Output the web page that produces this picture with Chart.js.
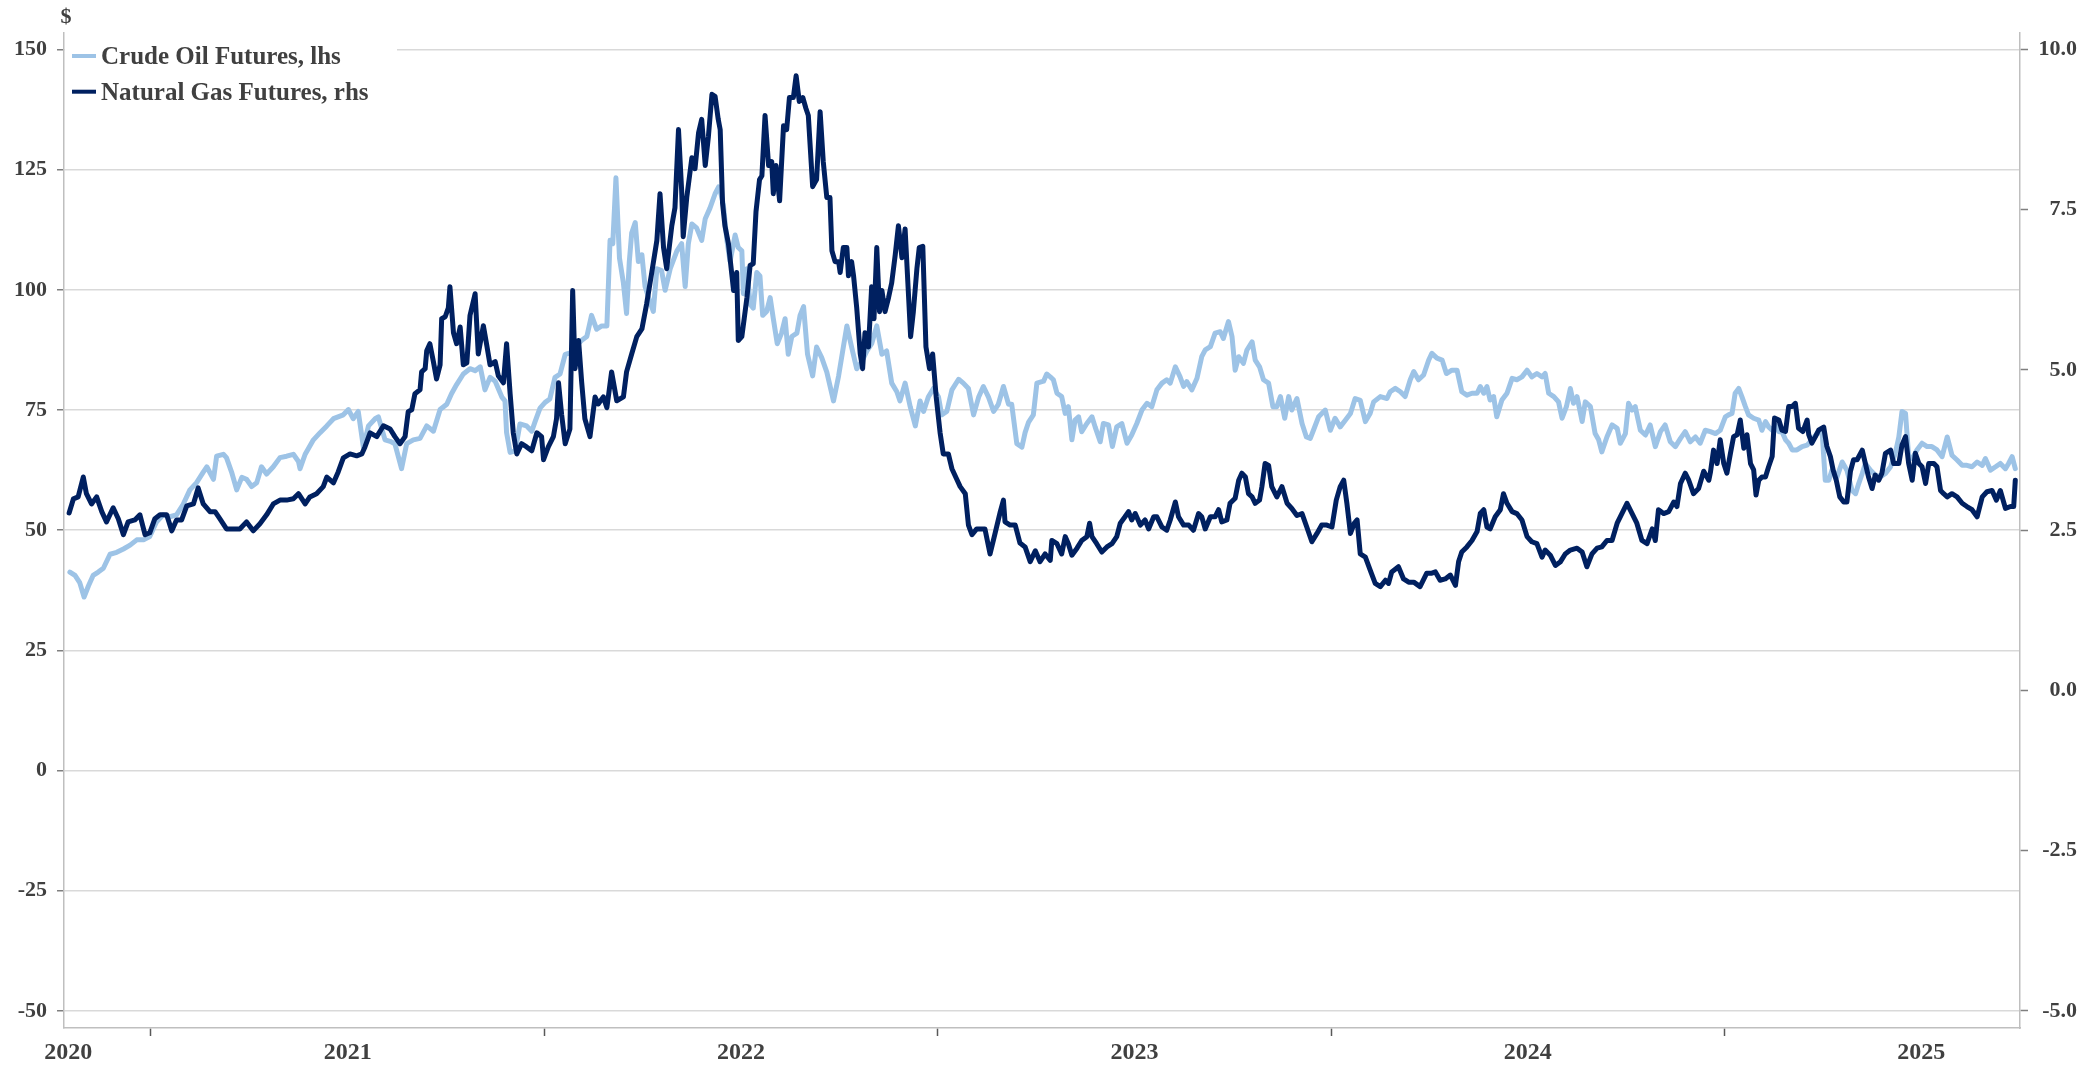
<!DOCTYPE html>
<html><head><meta charset="utf-8">
<script src="https://cdn.jsdelivr.net/npm/chart.js@4.4.1/dist/chart.umd.min.js"></script>
<style>html,body{margin:0;padding:0;background:#fff;overflow:hidden}canvas{display:block}</style>
</head><body>
<canvas id="c" width="2097" height="1068"></canvas>
<script>
const seriesNames = ['Crude Oil Futures, lhs', 'Natural Gas Futures, rhs'];
const unitLabel = '$';

// Crude oil futures ($/bbl), dates as decimal years
const oilDates = [
2020.794,2020.807,2020.819,2020.830,2020.841,2020.853,2020.866,2020.879,2020.896,2020.913,
2020.930,2020.947,2020.964,2020.981,2020.997,2021.014,2021.031,2021.048,2021.065,2021.082,
2021.099,2021.116,2021.133,2021.142,2021.159,2021.167,2021.184,2021.192,2021.205,2021.218,
2021.231,2021.243,2021.256,2021.269,2021.281,2021.294,2021.311,2021.328,2021.345,2021.362,
2021.375,2021.379,2021.392,2021.413,2021.430,2021.447,2021.464,2021.489,2021.502,2021.514,
2021.527,2021.540,2021.553,2021.570,2021.578,2021.595,
2021.608,2021.620,2021.637,2021.650,2021.667,2021.684,2021.701,2021.718,2021.735,2021.752,
2021.764,2021.777,2021.794,2021.811,2021.824,2021.837,2021.849,2021.862,2021.875,2021.892,
2021.900,2021.904,2021.913,2021.926,2021.938,2021.955,2021.968,2021.976,2021.989,2022.002,
2022.014,2022.027,2022.040,2022.053,2022.070,2022.082,2022.095,2022.108,2022.120,2022.133,
2022.146,2022.159,2022.167,2022.174,2022.182,2022.191,2022.201,2022.209,2022.216,2022.222,
2022.231,2022.239,2022.248,2022.256,2022.265,2022.277,2022.286,2022.298,2022.307,2022.320,
2022.337,2022.349,2022.358,2022.366,2022.375,2022.387,2022.400,2022.409,2022.421,2022.434,
2022.443,
2022.447,2022.455,2022.464,2022.472,2022.485,2022.493,2022.502,2022.506,2022.515,2022.523,
2022.531,2022.540,2022.548,2022.555,2022.565,2022.574,2022.582,2022.592,2022.603,2022.612,
2022.620,2022.629,2022.642,2022.650,2022.659,2022.669,2022.682,2022.692,2022.705,2022.718,
2022.735,2022.748,2022.760,2022.769,2022.781,2022.794,2022.807,2022.820,2022.832,2022.845,
2022.858,2022.870,2022.883,2022.896,2022.904,2022.917,2022.930,2022.943,2022.955,2022.964,
2022.976,2022.989,2023.002,2023.010,2023.023,2023.036,2023.053,2023.065,2023.078,2023.091,
2023.104,2023.116,2023.129,2023.142,2023.154,2023.167,2023.180,2023.188,2023.201,2023.214,
2023.222,2023.231,2023.243,2023.252,2023.269,2023.277,
2023.286,2023.294,2023.303,2023.315,2023.324,2023.332,2023.341,2023.349,2023.358,2023.366,
2023.379,2023.392,2023.400,2023.413,2023.421,2023.434,2023.444,2023.455,2023.468,2023.481,
2023.493,2023.506,2023.519,2023.532,2023.544,2023.557,2023.570,2023.582,2023.591,2023.604,
2023.616,2023.625,2023.633,2023.646,2023.659,2023.671,2023.680,2023.693,2023.705,2023.718,
2023.726,2023.739,2023.748,2023.756,2023.765,2023.777,2023.786,2023.799,2023.807,2023.818,
2023.828,2023.841,2023.852,2023.862,2023.871,2023.882,2023.892,2023.900,2023.913,2023.926,
2023.937,2023.947,2023.955,2023.968,2023.985,2023.998,2024.010,2024.023,2024.036,2024.049,
2024.061,2024.074,2024.087,2024.099,2024.108,
2024.125,2024.142,2024.150,2024.163,2024.176,2024.188,2024.201,2024.210,2024.222,2024.235,
2024.248,2024.256,2024.269,2024.282,2024.293,2024.307,2024.320,2024.332,2024.345,2024.358,
2024.371,2024.379,2024.388,2024.396,2024.404,2024.413,2024.421,2024.434,2024.447,2024.460,
2024.472,2024.485,2024.498,2024.510,2024.523,2024.536,2024.544,2024.553,2024.566,2024.578,
2024.587,2024.598,2024.608,2024.616,2024.625,2024.638,2024.646,2024.659,2024.671,2024.680,
2024.688,2024.701,2024.714,2024.727,2024.735,2024.748,2024.756,2024.765,2024.773,2024.786,
2024.799,2024.811,2024.824,2024.837,2024.849,2024.862,2024.875,2024.888,2024.900,2024.913,
2024.926,2024.938,2024.951,
2024.964,2024.977,2024.989,2025.002,2025.010,2025.019,2025.027,2025.036,2025.044,2025.053,
2025.061,2025.074,2025.087,2025.095,2025.104,2025.112,2025.121,2025.129,2025.138,2025.146,
2025.155,2025.163,2025.172,2025.184,2025.197,2025.210,2025.222,2025.235,2025.248,2025.256,
2025.265,2025.273,2025.286,2025.299,2025.311,2025.324,2025.333,2025.341,2025.350,2025.358,
2025.371,2025.383,2025.396,2025.409,2025.422,2025.434,2025.443,2025.451,2025.460,2025.468,
2025.477,2025.489,2025.502,2025.515,2025.527,2025.540,2025.553,2025.566,2025.578,2025.591,
2025.604,2025.616,2025.629,2025.642,2025.655,2025.663,2025.676,2025.689,2025.701,2025.714,
2025.722,2025.731,2025.739
];
const oilValues = [
41.3,40.6,39.1,36.1,38.4,40.6,41.3,42.1,45.0,45.4,
46.1,46.9,48.0,48.0,48.7,51.7,53.2,52.8,53.2,55.4,
58.4,59.9,62.1,63.2,60.6,65.4,65.8,65.1,62.1,58.4,
61.0,60.6,59.1,59.9,63.2,61.7,63.2,65.1,65.4,65.8,
64.3,62.8,65.8,68.8,70.3,71.7,73.2,74.0,75.1,73.2,
74.7,67.3,71.7,73.2,73.6,68.8,
68.5,68.0,62.8,68.0,68.8,69.1,71.7,70.6,75.1,76.2,
78.4,80.3,82.5,83.6,83.2,84.0,79.2,81.8,81.0,77.7,
76.9,70.3,66.2,66.5,72.1,71.7,70.6,72.5,75.4,76.6,
77.3,81.8,82.5,86.6,87.0,88.4,89.5,90.3,94.7,91.8,
92.5,92.5,110.3,109.6,123.3,106.6,101.4,95.1,105.9,111.8,
114.0,105.9,107.3,100.7,98.4,95.5,104.4,104.0,99.9,104.4,
108.1,109.6,100.7,109.6,113.7,112.9,110.3,114.8,117.0,120.0,
121.4,
120.7,117.7,110.3,105.9,111.4,108.8,108.1,99.2,104.4,97.0,
96.2,103.6,102.9,94.7,95.5,98.4,94.0,88.8,91.0,94.0,
86.6,90.3,91.0,94.7,96.5,86.6,82.1,88.1,85.9,82.9,
76.9,82.1,88.1,92.5,88.1,83.6,85.1,87.3,88.8,92.5,
86.6,87.3,80.6,78.8,76.9,80.6,75.7,71.7,76.9,74.7,
77.7,79.5,77.7,74.0,74.7,79.2,81.4,80.6,79.5,74.0,
77.7,79.9,77.7,74.7,76.2,79.9,76.2,76.2,68.0,67.3,
70.3,72.5,74.0,80.6,81.0,82.5,
81.9,81.3,78.5,77.8,74.3,75.7,68.8,72.9,73.6,70.5,
72.2,73.6,71.5,68.4,72.2,71.9,67.4,71.5,72.2,68.1,
69.8,72.2,75.0,76.4,75.7,79.2,80.6,81.3,80.6,84.0,
81.9,79.9,80.9,79.2,81.6,86.1,87.5,88.2,91.0,91.3,
89.9,93.4,90.3,83.3,86.1,84.7,87.5,89.2,85.4,84.0,
81.3,80.6,75.7,75.7,77.8,73.3,77.8,75.0,77.4,72.2,
69.4,69.1,70.8,73.6,75.0,70.8,73.3,71.5,72.9,74.3,
77.4,77.0,72.6,74.3,76.7,
77.8,77.4,78.8,79.5,78.8,77.8,81.3,83.0,81.3,82.3,
85.4,86.8,85.8,85.4,82.6,83.3,83.3,78.8,78.1,78.5,
78.5,79.9,78.5,79.9,77.1,77.8,73.6,77.1,78.5,81.6,
81.3,81.9,83.3,81.9,82.6,81.9,82.6,78.5,77.8,76.7,
73.3,75.7,79.5,76.4,77.8,72.6,76.7,75.7,70.1,68.8,
66.3,69.4,71.9,71.2,68.1,70.1,76.4,75.0,75.7,70.8,
69.8,71.9,67.4,70.5,71.9,68.4,67.4,69.1,70.5,68.4,
69.4,68.1,70.8,
70.5,70.1,70.8,73.6,74.0,74.3,78.5,79.5,77.8,75.7,
74.0,73.3,72.9,70.8,72.6,71.5,70.8,71.9,70.5,70.5,
68.8,68.1,66.7,66.7,67.4,67.7,68.8,70.1,70.5,60.4,
60.4,62.5,61.1,64.2,62.5,58.3,57.6,59.7,61.8,63.9,
62.5,61.5,61.1,61.8,63.2,66.0,69.4,74.7,74.3,65.3,
64.9,66.7,68.1,67.4,67.4,66.7,65.3,69.4,65.6,64.6,
63.5,63.5,63.2,64.2,63.5,64.9,62.5,63.2,63.9,62.8,
63.9,65.3,62.8
];

// Natural gas futures ($/MMBtu), dates as decimal years
const gasDates = [
2020.792,2020.803,2020.815,2020.828,2020.836,2020.849,2020.862,2020.875,2020.887,2020.904,
2020.917,2020.930,2020.942,2020.959,2020.972,2020.985,2020.997,2021.010,2021.023,2021.040,
2021.053,2021.065,2021.078,2021.091,2021.108,2021.120,2021.133,2021.150,2021.163,2021.175,
2021.192,2021.209,2021.226,2021.243,2021.260,2021.277,2021.294,2021.311,2021.328,2021.345,
2021.362,2021.375,2021.392,2021.404,2021.421,2021.438,2021.447,2021.464,2021.476,2021.489,
2021.506,2021.523,2021.536,2021.544,2021.557,2021.574,2021.591,
2021.608,2021.620,2021.633,2021.646,2021.654,2021.663,2021.671,2021.684,2021.688,2021.697,
2021.701,2021.709,2021.718,2021.726,2021.735,2021.739,2021.748,2021.756,2021.760,2021.769,
2021.777,2021.786,2021.794,2021.803,2021.811,2021.824,2021.832,2021.845,2021.853,2021.862,
2021.875,2021.883,2021.896,2021.904,2021.913,2021.921,2021.930,2021.942,2021.955,2021.968,
2021.981,2021.993,2021.998,2022.010,2022.023,2022.031,2022.036,2022.044,2022.053,2022.065,
2022.072,2022.078,2022.087,2022.095,2022.103,2022.116,2022.129,2022.137,2022.150,2022.159,
2022.171,2022.184,2022.201,2022.209,2022.222,2022.235,2022.248,2022.260,2022.273,2022.286,
2022.294,2022.303,2022.311,2022.324,2022.332,2022.341,2022.349,2022.353,2022.362,2022.375,
2022.383,2022.392,2022.400,2022.409,2022.417,2022.426,2022.434,2022.442,
2022.447,2022.453,2022.459,2022.468,2022.476,2022.481,2022.489,2022.493,2022.502,2022.508,
2022.515,2022.523,2022.531,2022.538,2022.547,2022.553,2022.561,2022.570,2022.578,2022.582,
2022.589,2022.598,2022.608,2022.616,2022.623,2022.633,2022.640,2022.648,2022.657,2022.665,
2022.671,2022.682,2022.692,2022.701,2022.709,2022.718,2022.726,2022.731,2022.739,2022.748,
2022.752,2022.760,2022.769,2022.773,2022.781,2022.786,2022.794,2022.803,2022.809,2022.815,
2022.824,2022.832,2022.838,2022.845,2022.852,2022.858,2022.866,2022.875,2022.883,2022.892,
2022.900,2022.909,2022.917,2022.926,2022.931,2022.938,2022.947,2022.953,2022.962,2022.970,
2022.979,2022.987,2022.996,2023.006,2023.014,2023.027,2023.036,2023.048,2023.057,2023.070,
2023.078,2023.087,2023.099,2023.112,2023.120,2023.133,2023.146,2023.159,2023.167,2023.171,
2023.184,2023.197,2023.209,2023.222,2023.235,2023.248,2023.260,2023.273,
2023.286,2023.290,2023.303,2023.315,2023.324,2023.332,2023.341,2023.354,2023.366,2023.379,
2023.386,2023.392,2023.404,2023.417,2023.430,2023.443,2023.455,2023.464,2023.476,2023.485,
2023.493,2023.502,2023.515,2023.527,2023.536,2023.549,2023.557,2023.570,2023.582,2023.591,
2023.604,2023.612,2023.625,2023.638,2023.650,2023.663,2023.671,2023.680,2023.693,2023.705,
2023.714,2023.722,2023.735,2023.743,2023.756,2023.765,2023.773,2023.782,2023.790,2023.799,
2023.807,2023.818,2023.824,2023.832,2023.841,2023.849,2023.862,2023.875,2023.888,2023.900,
2023.913,2023.926,2023.938,2023.951,2023.964,2023.976,2023.989,2024.002,2024.013,2024.023,
2024.032,2024.040,2024.049,2024.059,2024.066,2024.074,2024.087,2024.099,2024.112,
2024.125,2024.138,2024.146,2024.154,2024.171,2024.184,2024.197,2024.210,2024.226,2024.243,
2024.256,2024.265,2024.277,2024.290,2024.303,2024.316,2024.324,2024.332,2024.345,2024.358,
2024.371,2024.379,2024.388,2024.396,2024.404,2024.417,2024.430,2024.438,2024.447,2024.460,
2024.472,2024.485,2024.498,2024.510,2024.523,2024.536,2024.544,2024.557,2024.570,2024.583,
2024.595,2024.608,2024.625,2024.638,2024.650,2024.663,2024.676,2024.688,2024.701,2024.714,
2024.727,2024.739,2024.752,2024.765,2024.777,2024.790,2024.803,2024.816,2024.824,2024.832,
2024.845,2024.858,2024.871,2024.879,2024.888,2024.900,2024.909,2024.921,2024.934,2024.947,
2024.960,
2024.964,2024.972,2024.981,2024.989,2024.998,2025.006,2025.015,2025.023,2025.032,2025.040,
2025.049,2025.057,2025.066,2025.074,2025.080,2025.087,2025.095,2025.104,2025.112,2025.121,
2025.127,2025.138,2025.146,2025.155,2025.163,2025.172,2025.180,2025.188,2025.199,2025.210,
2025.214,2025.222,2025.231,2025.239,2025.252,2025.260,2025.269,2025.276,2025.284,2025.293,
2025.303,2025.311,2025.320,2025.328,2025.337,2025.350,2025.358,2025.366,2025.375,2025.383,
2025.392,2025.400,2025.409,2025.422,2025.430,2025.443,2025.451,2025.460,2025.468,2025.477,
2025.485,2025.494,2025.502,2025.511,2025.519,2025.532,2025.540,2025.549,2025.557,2025.566,
2025.578,2025.591,2025.604,2025.616,2025.629,2025.642,2025.655,2025.667,2025.680,2025.691,
2025.701,2025.714,2025.727,2025.735,2025.739
];
const gasValues = [
2.77,2.99,3.02,3.33,3.07,2.91,3.02,2.79,2.63,2.85,
2.68,2.43,2.63,2.66,2.74,2.43,2.46,2.68,2.74,2.74,
2.49,2.66,2.66,2.88,2.91,3.16,2.91,2.79,2.79,2.68,
2.52,2.52,2.52,2.63,2.49,2.60,2.74,2.91,2.97,2.97,
2.99,3.07,2.91,3.02,3.07,3.18,3.33,3.24,3.41,3.63,
3.69,3.66,3.69,3.80,4.02,3.96,4.13,
4.08,3.96,3.85,3.96,4.35,4.38,4.63,4.69,4.97,5.02,
5.30,5.41,5.13,4.86,5.08,5.80,5.83,5.97,6.30,5.58,
5.41,5.67,5.08,5.11,5.85,6.19,5.25,5.69,5.41,5.08,
5.13,4.91,4.80,5.41,4.63,4.02,3.69,3.85,3.80,3.74,
4.02,3.96,3.60,3.80,3.96,4.24,4.80,4.30,3.85,4.08,
6.24,5.02,5.46,4.80,4.24,3.96,4.58,4.47,4.58,4.41,
4.97,4.52,4.58,4.97,5.25,5.52,5.64,6.03,6.52,7.02,
7.75,6.91,6.58,7.25,7.53,8.75,7.80,7.08,7.69,8.31,
8.14,8.70,8.91,8.19,8.64,9.30,9.27,8.91,
8.75,7.60,7.25,6.97,6.52,6.24,6.52,5.46,5.52,5.80,
6.13,6.63,6.66,7.47,7.97,8.03,8.97,8.19,8.25,7.75,
8.19,7.64,8.81,8.75,9.25,9.25,9.59,9.19,9.25,9.08,
8.97,7.86,7.97,9.03,8.25,7.69,7.69,6.86,6.69,6.69,
6.52,6.91,6.91,6.47,6.69,6.47,5.97,5.25,5.02,5.58,
5.36,6.30,5.80,6.91,5.91,6.24,5.91,6.13,6.36,6.80,
7.25,6.75,7.20,6.13,5.52,5.91,6.58,6.91,6.93,5.36,
5.02,5.25,4.58,4.02,3.69,3.69,3.46,3.30,3.18,3.07,
2.58,2.43,2.52,2.52,2.52,2.13,2.46,2.79,2.97,2.63,
2.58,2.58,2.30,2.24,2.01,2.18,2.01,2.13,
2.03,2.34,2.29,2.13,2.40,2.29,2.11,2.22,2.34,2.40,
2.61,2.40,2.29,2.16,2.24,2.29,2.40,2.61,2.71,2.79,
2.66,2.76,2.58,2.66,2.52,2.71,2.71,2.55,2.50,2.66,
2.94,2.71,2.58,2.58,2.50,2.76,2.71,2.52,2.71,2.71,
2.82,2.63,2.66,2.92,3.00,3.28,3.39,3.33,3.07,3.02,
2.92,2.97,3.18,3.54,3.51,3.18,3.02,3.18,2.92,2.84,
2.73,2.76,2.55,2.32,2.45,2.58,2.58,2.55,2.97,3.18,
3.28,2.92,2.45,2.61,2.66,2.13,2.08,1.88,1.67,
1.62,1.72,1.67,1.85,1.93,1.74,1.69,1.69,1.62,1.83,
1.83,1.85,1.72,1.74,1.80,1.64,2.01,2.16,2.24,2.34,
2.48,2.76,2.82,2.55,2.52,2.71,2.82,3.07,2.92,2.79,
2.76,2.66,2.40,2.32,2.29,2.08,2.19,2.11,1.95,2.01,
2.13,2.19,2.22,2.16,1.93,2.13,2.22,2.24,2.34,2.34,
2.61,2.76,2.92,2.76,2.61,2.34,2.29,2.52,2.34,2.82,
2.76,2.79,2.94,2.87,3.23,3.39,3.28,3.07,3.15,3.42,
3.28,
3.40,3.75,3.54,3.91,3.54,3.39,3.70,3.96,3.99,4.22,
3.78,3.99,3.54,3.44,3.05,3.28,3.33,3.33,3.49,3.65,
4.25,4.22,4.06,4.04,4.43,4.43,4.48,4.09,4.04,4.22,
3.99,3.86,3.96,4.06,4.11,3.81,3.65,3.44,3.28,3.02,
2.94,2.94,3.42,3.60,3.60,3.75,3.54,3.33,3.15,3.36,
3.28,3.39,3.70,3.75,3.54,3.54,3.83,3.96,3.54,3.28,
3.70,3.54,3.49,3.23,3.54,3.54,3.49,3.12,3.07,3.02,
3.07,3.02,2.92,2.87,2.82,2.71,3.02,3.10,3.12,2.97,
3.12,2.84,2.87,2.87,3.28
];

const leftTicks = [-50, -25, 0, 25, 50, 75, 100, 125, 150];
const rightTicks = [-5, -2.5, 0, 2.5, 5, 7.5, 10];
const yearLabels = ['2020', '2021', '2022', '2023', '2024', '2025'];
const yearLabelDates = [2020.79, 2021.5, 2022.5, 2023.5, 2024.5, 2025.5];
const yearBoundaries = [2021, 2022, 2023, 2024, 2025];
const xRange = [2020.779, 2025.751];
const leftRange = [-53.54, 153.43];
const rightRange = [-5.2655, 10.257];

const FONT = "'Liberation Serif', 'Times New Roman', serif";
const TXT = '#404040';
const COLORS = ['#9DC3E6', '#002060'];

const overlayPlugin = {
  id: 'overlay',
  afterDatasetsDraw(chart) {
    const { ctx, chartArea } = chart;
    ctx.save();
    ctx.fillStyle = '#ffffff';
    ctx.fillRect(chartArea.left + 1, chartArea.top + 4, 332, 76);
    chart.data.datasets.forEach((ds, i) => {
      const yMid = chartArea.top + 23 + i * 35.7;
      ctx.strokeStyle = ds.borderColor;
      ctx.lineWidth = 4;
      ctx.beginPath();
      ctx.moveTo(chartArea.left + 8, yMid);
      ctx.lineTo(chartArea.left + 32, yMid);
      ctx.stroke();
      ctx.fillStyle = TXT;
      ctx.font = "bold 25px " + FONT;
      ctx.textBaseline = 'alphabetic';
      ctx.textAlign = 'left';
      ctx.fillText(ds.label, chartArea.left + 37, yMid + 8);
    });
    ctx.font = "bold 22px " + FONT;
    ctx.textAlign = 'center';
    ctx.fillStyle = TXT;
    ctx.fillText(unitLabel, chartArea.left + 2, 23);
    ctx.restore();
  }
};

new Chart(document.getElementById('c'), {
  type: 'line',
  data: {
    datasets: [
      { label: seriesNames[0], data: oilDates.map((d, i) => ({ x: d, y: oilValues[i] })),
        yAxisID: 'y', borderColor: COLORS[0], backgroundColor: COLORS[0], borderWidth: 5,
        pointRadius: 0, tension: 0, order: 1, borderJoinStyle: 'round', borderCapStyle: 'round' },
      { label: seriesNames[1], data: gasDates.map((d, i) => ({ x: d, y: gasValues[i] })),
        yAxisID: 'y1', borderColor: COLORS[1], backgroundColor: COLORS[1], borderWidth: 5,
        pointRadius: 0, tension: 0, order: 0, borderJoinStyle: 'round', borderCapStyle: 'round' }
    ]
  },
  options: {
    responsive: false, animation: false, devicePixelRatio: 1, events: [],
    layout: { padding: { top: 33, left: 0, right: 20, bottom: 0 } },
    plugins: { legend: { display: false }, tooltip: { enabled: false } },
    scales: {
      x: {
        type: 'linear', position: 'bottom', min: xRange[0], max: xRange[1],
        afterBuildTicks: s => {
          s.ticks = yearLabelDates.concat(yearBoundaries).sort((a, b) => a - b).map(v => ({ value: v }));
        },
        afterFit: s => { s.height = 40; },
        grid: { drawOnChartArea: false, drawTicks: true, tickLength: 8, tickWidth: 1.5,
          tickColor: c => (c.tick && yearBoundaries.includes(c.tick.value)) ? '#595959' : 'rgba(0,0,0,0)' },
        border: { display: true, color: '#BFBFBF', width: 1.5 },
        ticks: { autoSkip: false, maxRotation: 0, minRotation: 0, padding: 2, color: TXT,
          font: { family: FONT, size: 24, weight: 'bold' },
          callback: v => { const i = yearLabelDates.indexOf(v); return i >= 0 ? yearLabels[i] : ''; } }
      },
      y: {
        type: 'linear', position: 'left', min: leftRange[0], max: leftRange[1],
        afterBuildTicks: s => { s.ticks = leftTicks.map(v => ({ value: v })); },
        afterFit: s => { s.width = 64; },
        grid: { color: '#D9D9D9', lineWidth: 1.5, drawTicks: true, tickLength: 7, tickColor: '#7F7F7F', tickWidth: 1.5 },
        border: { display: true, color: '#BFBFBF', width: 1.5 },
        ticks: { padding: 10, color: TXT, font: { family: FONT, size: 22, weight: 'bold' }, callback: v => String(v) }
      },
      y1: {
        type: 'linear', position: 'right', min: rightRange[0], max: rightRange[1],
        afterBuildTicks: s => { s.ticks = rightTicks.map(v => ({ value: v })); },
        afterFit: s => { s.width = 57; },
        grid: { drawOnChartArea: false, drawTicks: true, tickLength: 8, tickColor: '#7F7F7F', tickWidth: 1.5 },
        border: { display: true, color: '#BFBFBF', width: 1.5 },
        ticks: { padding: 9, crossAlign: 'far', color: TXT, font: { family: FONT, size: 22, weight: 'bold' },
          callback: v => v.toFixed(1) }
      }
    }
  },
  plugins: [overlayPlugin]
});
</script>
</body></html>
